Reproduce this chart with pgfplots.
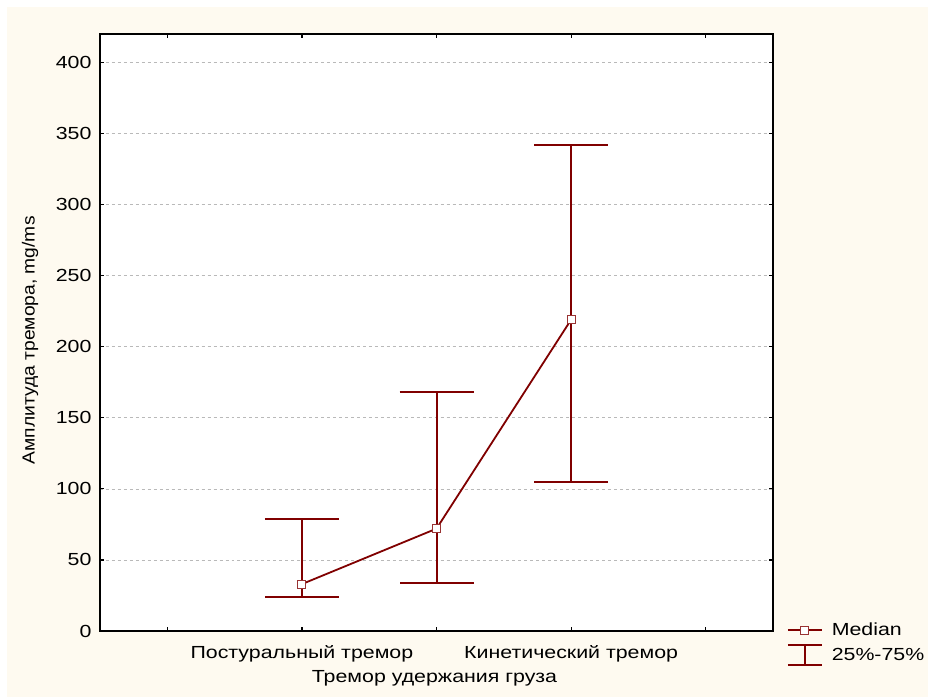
\documentclass[border=0pt]{standalone}
\usepackage{fontspec}
\setmainfont[FakeStretch=1.22]{Liberation Sans}
\newfontfamily\ylfont[FakeStretch=1.1]{Liberation Sans}
\usepackage{pgfplots}
\pgfplotsset{compat=1.18}
\definecolor{cream}{RGB}{254,250,240}
\definecolor{maroon}{RGB}{128,0,0}
\begin{document}
\begin{tikzpicture}
\fill[white] (0,0) rectangle (928bp,697bp);
\fill[cream] (7bp,0) rectangle (928bp,690bp);
\begin{axis}[
  at={(100bp,66bp)}, anchor=south west,
  scale only axis, width=673bp, height=597bp,
  xmin=0.5, xmax=5.5, ymin=0, ymax=420,
  xtick={1,2,3,4,5},
  xticklabels={,Постуральный тремор,,Кинетический тремор,},
  ytick={0,50,...,400},
  tick align=inside, major tick length=4bp,
  tick style={black, line width=1.2bp},
  axis line style={line width=1.5bp},
  axis background/.style={fill=white},
  ymajorgrids, major grid style={dashed, gray!55, line width=0.6bp},
  /pgf/number format/assume math mode=true,
  tick label style={font=\fontsize{17.5bp}{21bp}\selectfont},
  xticklabel style={yshift=-11bp},
  yticklabel style={xshift=-5bp},
  xlabel={Тремор удержания груза},
  xlabel style={at={(axis description cs:0.497,-0.08)}, anchor=center, font=\fontsize{17.5bp}{21bp}\selectfont},
  ylabel={Амплитуда тремора, mg/ms},
  ylabel style={at={(axis description cs:-0.104,0.487)}, anchor=center, font=\fontsize{17.5bp}{21bp}\ylfont},
  legend cell align=left,
  legend style={draw=none, fill=none, at={(axis description cs:1.02,0.017)}, anchor=north west,
    font=\fontsize{17.5bp}{21bp}\selectfont, row sep=5bp, inner sep=0pt},
]
\addplot[draw=none, forget plot, mark=none,
  error bars/.cd, y dir=both, y explicit,
  error bar style={line width=2bp, maroon},
  error mark options={rotate=90, mark size=37bp, line width=2.2bp, maroon}]
  table[x=x, y=y, y error plus=ep, y error minus=em] {
x y ep em
2 33 46 9
3 72 96 38
4 219 123 114
};
\addplot[maroon, line width=1.8bp, mark=square*, mark size=4bp,
  mark options={fill=white, draw=maroon!80, line width=1bp},
  legend image code/.code={
    \path[draw=none, fill=none] (0bp,0bp) -- (42bp,0bp);
    \draw[maroon, line width=2bp] (0bp,0bp) -- (34bp,0bp);
    \draw[draw=maroon!80, fill=white, line width=1bp] (13bp,-4bp) rectangle (21bp,4bp);
  }]
  table {
2 33
3 72
4 219
};
\addlegendentry{Median}
\addlegendimage{legend image code/.code={
    \path[draw=none, fill=none] (0bp,0bp) -- (42bp,0bp);
    \draw[maroon, line width=2bp] (17bp,-10bp) -- (17bp,10bp);
    \draw[maroon, line width=2.2bp] (0bp,-10bp) -- (34bp,-10bp);
    \draw[maroon, line width=2.2bp] (0bp,10bp) -- (34bp,10bp);
  }}
\addlegendentry{25\%-75\%}
\end{axis}
\end{tikzpicture}
\end{document}
